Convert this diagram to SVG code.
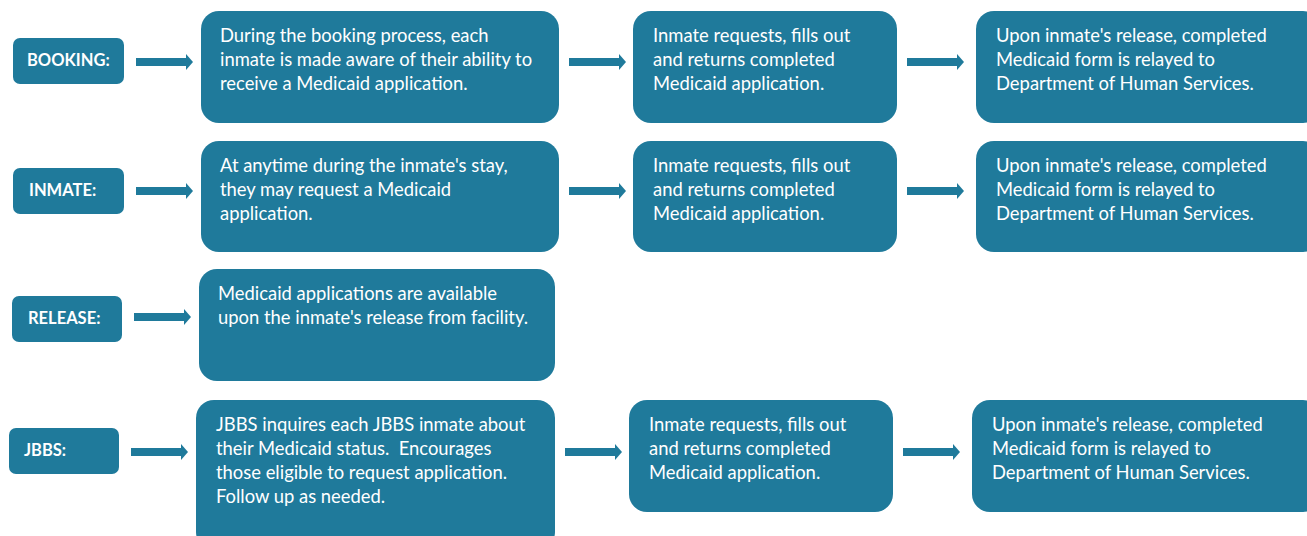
<svg xmlns="http://www.w3.org/2000/svg" width="1307" height="536" viewBox="0 0 1307 536">
<defs>
<style>
.box{fill:#1f7a9b;}
.lbl{fill:#fff;font-family:Lato,"Open Sans",sans-serif;font-weight:bold;font-size:16.5px;}
.t{fill:#fff;font-family:Lato,"Open Sans",sans-serif;font-size:18.4px;white-space:pre;}
.arr{fill:#1f7a9b;}
</style>
<path id="arrow" d="M0,-4 H50 V-8 L57,0 L50,8 V4 H0 Z"/>
</defs>
<rect width="1307" height="536" fill="#fff"/>
<g id="connectors" class="arr">
<use href="#arrow" x="136" y="62"/>
<use href="#arrow" x="569" y="62"/>
<use href="#arrow" x="907" y="62"/>
<use href="#arrow" x="136" y="191"/>
<use href="#arrow" x="569" y="191"/>
<use href="#arrow" x="907" y="191"/>
<use href="#arrow" x="134" y="317"/>
<use href="#arrow" x="131" y="452"/>
<use href="#arrow" x="565" y="452"/>
<use href="#arrow" x="903" y="452"/>
</g>
<g id="booking"><rect class="box" x="13" y="38" width="111" height="46" rx="7"/><text class="lbl" x="27" y="66">BOOKING:</text></g>
<g id="booking-1"><rect class="box" x="201" y="11" width="358" height="112" rx="18"/><text class="t" x="220" y="42">During the booking process, each</text><text class="t" x="220" y="66">inmate is made aware of their ability to</text><text class="t" x="220" y="90">receive a Medicaid application.</text></g>
<g id="booking-2"><rect class="box" x="633" y="11" width="264" height="112" rx="18"/><text class="t" x="653" y="42">Inmate requests, fills out</text><text class="t" x="653" y="66">and returns completed</text><text class="t" x="653" y="90">Medicaid application.</text></g>
<g id="booking-3"><rect class="box" x="976" y="11" width="345" height="112" rx="18"/><text class="t" x="996" y="42">Upon inmate's release, completed</text><text class="t" x="996" y="66">Medicaid form is relayed to</text><text class="t" x="996" y="90">Department of Human Services.</text></g>

<g id="inmate"><rect class="box" x="13" y="168" width="111" height="46" rx="7"/><text class="lbl" x="29" y="196">INMATE:</text></g>
<g id="inmate-1"><rect class="box" x="201" y="141" width="358" height="111" rx="18"/><text class="t" x="220" y="172">At anytime during the inmate's stay,</text><text class="t" x="220" y="196">they may request a Medicaid</text><text class="t" x="220" y="220">application.</text></g>
<g id="inmate-2"><rect class="box" x="633" y="141" width="264" height="111" rx="18"/><text class="t" x="653" y="172">Inmate requests, fills out</text><text class="t" x="653" y="196">and returns completed</text><text class="t" x="653" y="220">Medicaid application.</text></g>
<g id="inmate-3"><rect class="box" x="976" y="141" width="345" height="111" rx="18"/><text class="t" x="996" y="172">Upon inmate's release, completed</text><text class="t" x="996" y="196">Medicaid form is relayed to</text><text class="t" x="996" y="220">Department of Human Services.</text></g>

<g id="release"><rect class="box" x="12" y="296" width="110" height="46" rx="7"/><text class="lbl" x="28" y="324">RELEASE:</text></g>
<g id="release-1"><rect class="box" x="199" y="269" width="356" height="112" rx="18"/><text class="t" x="218" y="300">Medicaid applications are available</text><text class="t" x="218" y="324">upon the inmate's release from facility.</text></g>

<g id="jbbs"><rect class="box" x="9" y="428" width="110" height="46" rx="7"/><text class="lbl" x="24" y="456">JBBS:</text></g>
<g id="jbbs-1"><rect class="box" x="196" y="400" width="359" height="150" rx="18"/><text class="t" x="216" y="431">JBBS inquires each JBBS inmate about</text><text class="t" x="216" y="455">their Medicaid status.  Encourages</text><text class="t" x="216" y="479">those eligible to request application.</text><text class="t" x="216" y="503">Follow up as needed.</text></g>
<g id="jbbs-2"><rect class="box" x="629" y="400" width="264" height="112" rx="18"/><text class="t" x="649" y="431">Inmate requests, fills out</text><text class="t" x="649" y="455">and returns completed</text><text class="t" x="649" y="479">Medicaid application.</text></g>
<g id="jbbs-3"><rect class="box" x="972" y="400" width="349" height="112" rx="18"/><text class="t" x="992" y="431">Upon inmate's release, completed</text><text class="t" x="992" y="455">Medicaid form is relayed to</text><text class="t" x="992" y="479">Department of Human Services.</text></g>
</svg>
